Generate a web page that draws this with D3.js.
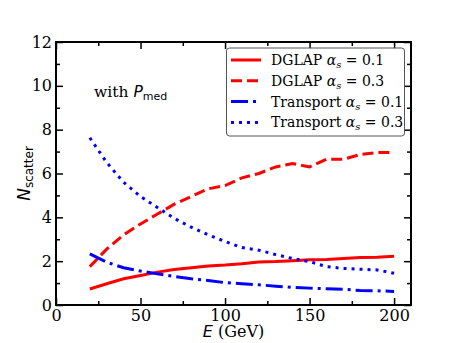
<!DOCTYPE html>
<html>
<head>
<meta charset="utf-8">
<script src="https://cdn.jsdelivr.net/npm/d3@7"></script>
<style>
  body { margin: 0; background: #fff; }
  svg { display: block; }
</style>
</head>
<body>
<svg id="chart" width="457" height="343"></svg>
<script>
// energies (GeV)
const energy = [20, 30, 40, 50, 60, 70, 80, 90, 100, 110, 120, 130, 140, 150, 160, 170, 180, 190, 200];
// N_scatter for each curve
const dglap01 = [0.73, 0.97, 1.2, 1.35, 1.5, 1.62, 1.7, 1.78, 1.82, 1.88, 1.96, 1.98, 2.02, 2.06, 2.08, 2.12, 2.17, 2.18, 2.22];
const dglap03 = [1.75, 2.55, 3.2, 3.7, 4.15, 4.6, 4.95, 5.3, 5.45, 5.8, 6.0, 6.3, 6.45, 6.3, 6.65, 6.65, 6.87, 6.96, 6.95];
const transport01 = [2.33, 1.95, 1.7, 1.55, 1.42, 1.3, 1.2, 1.12, 1.02, 0.97, 0.92, 0.86, 0.8, 0.77, 0.74, 0.72, 0.66, 0.65, 0.62];
const transport03 = [7.63, 6.5, 5.6, 4.95, 4.45, 3.95, 3.55, 3.2, 2.9, 2.62, 2.5, 2.3, 2.12, 1.98, 1.75, 1.67, 1.63, 1.6, 1.45];

const xTicks = [0, 50, 100, 150, 200];
const yTicks = [0, 2, 4, 6, 8, 10, 12];

const curves = [
  {name: "DGLAP", alpha: "0.1", vals: dglap01, color: "#ff0000", dash: null},
  {name: "DGLAP", alpha: "0.3", vals: dglap03, color: "#ff0000", dash: "11,5"},
  {name: "Transport", alpha: "0.1", vals: transport01, color: "#0000ff", dash: "17,5,3,5"},
  {name: "Transport", alpha: "0.3", vals: transport03, color: "#0000ff", dash: "3,5"}
];

const serif = "'DejaVu Serif', serif";
const sans = "'DejaVu Sans', sans-serif";

const svg = d3.select("#chart");
const m = {left: 56, right: 411, top: 42, bottom: 305};

const x = d3.scaleLinear().domain([0, 210]).range([m.left, m.right]);
const y = d3.scaleLinear().domain([0, 12]).range([m.bottom, m.top]);

// plot the curves first so the frame sits on top
const line = d3.line().x((d, i) => x(energy[i])).y(d => y(d));

svg.append("g")
  .selectAll("path")
  .data(curves)
  .enter()
  .append("path")
    .attr("d", d => line(d.vals))
    .attr("fill", "none")
    .attr("stroke", d => d.color)
    .attr("stroke-width", 3)
    .attr("stroke-dasharray", d => d.dash);

// ticks pointing inward on all four sides
function styleAxis(g) {
  g.select(".domain").remove();
  g.selectAll(".tick line").attr("stroke", "#000").attr("stroke-width", 1.5);
  g.selectAll(".tick text")
    .style("font-family", serif)
    .style("font-size", "16px")
    .attr("fill", "#000");
}

const minorX = d3.range(0, 211, 25).filter(v => v % 50 !== 0);
const minorY = d3.range(0, 13, 1).filter(v => v % 2 !== 0);

svg.append("g")
  .attr("transform", `translate(0,${m.bottom})`)
  .call(d3.axisBottom(x).tickValues(xTicks).tickSize(-7).tickPadding(5))
  .call(styleAxis);
svg.append("g")
  .attr("transform", `translate(0,${m.bottom})`)
  .call(d3.axisBottom(x).tickValues(minorX).tickSize(-4).tickFormat(""))
  .call(styleAxis);
svg.append("g")
  .attr("transform", `translate(0,${m.top})`)
  .call(d3.axisTop(x).tickValues(xTicks).tickSize(-7).tickFormat(""))
  .call(styleAxis);
svg.append("g")
  .attr("transform", `translate(0,${m.top})`)
  .call(d3.axisTop(x).tickValues(minorX).tickSize(-4).tickFormat(""))
  .call(styleAxis);

svg.append("g")
  .attr("transform", `translate(${m.left},0)`)
  .call(d3.axisLeft(y).tickValues(yTicks).tickSize(-7).tickPadding(4))
  .call(styleAxis);
svg.append("g")
  .attr("transform", `translate(${m.left},0)`)
  .call(d3.axisLeft(y).tickValues(minorY).tickSize(-4).tickFormat(""))
  .call(styleAxis);
svg.append("g")
  .attr("transform", `translate(${m.right},0)`)
  .call(d3.axisRight(y).tickValues(yTicks).tickSize(-7).tickFormat(""))
  .call(styleAxis);
svg.append("g")
  .attr("transform", `translate(${m.right},0)`)
  .call(d3.axisRight(y).tickValues(minorY).tickSize(-4).tickFormat(""))
  .call(styleAxis);

// frame
svg.append("rect")
  .attr("x", m.left)
  .attr("y", m.top)
  .attr("width", m.right - m.left)
  .attr("height", m.bottom - m.top)
  .attr("fill", "none")
  .attr("stroke", "#000")
  .attr("stroke-width", 2);

// axis labels
const xl = svg.append("text")
  .attr("x", (m.left + m.right) / 2)
  .attr("y", 337)
  .attr("text-anchor", "middle")
  .style("font-size", "16px");
xl.append("tspan").attr("font-style", "italic").style("font-family", sans).text("E");
xl.append("tspan").style("font-family", serif).text(" (GeV)");

const yl = svg.append("text")
  .attr("transform", `translate(30,${(m.top + m.bottom) / 2}) rotate(-90)`)
  .attr("text-anchor", "middle")
  .style("font-family", sans)
  .style("font-size", "17px");
yl.append("tspan").attr("font-style", "italic").text("N");
yl.append("tspan").attr("dy", 3).style("font-size", "12px").text("scatter");

// annotation
const ann = svg.append("text")
  .attr("x", 94)
  .attr("y", 97)
  .style("font-family", serif)
  .style("font-size", "15.5px");
ann.append("tspan").text("with ");
ann.append("tspan").attr("font-style", "italic").style("font-family", sans).text("P");
ann.append("tspan").attr("dy", 3).style("font-family", sans).style("font-size", "11px").text("med");

// legend
const leg = svg.append("g");
leg.append("rect")
  .attr("x", 226.5)
  .attr("y", 48)
  .attr("width", 178)
  .attr("height", 88)
  .attr("rx", 3)
  .attr("fill", "#fff")
  .attr("fill-opacity", 0.85)
  .attr("stroke", "#555")
  .attr("stroke-width", 1);

const rows = leg.selectAll("g.row")
  .data(curves)
  .enter()
  .append("g")
    .attr("class", "row")
    .attr("transform", (d, i) => `translate(0,${60 + i * 20.8})`);

rows.append("line")
  .attr("x1", 231).attr("x2", 261)
  .attr("stroke", d => d.color)
  .attr("stroke-width", 3)
  .attr("stroke-dasharray", d => d.dash);

const lt = rows.append("text")
  .attr("x", 271)
  .attr("y", 5)
  .style("font-family", serif)
  .style("font-size", "14px");
lt.append("tspan").text(d => d.name + " ");
lt.append("tspan").attr("font-style", "italic").text("α");
lt.append("tspan").attr("font-style", "italic").attr("dy", 3).style("font-size", "10px").text("s");
lt.append("tspan").attr("dy", -3).text(d => " = " + d.alpha);
</script>
</body>
</html>
